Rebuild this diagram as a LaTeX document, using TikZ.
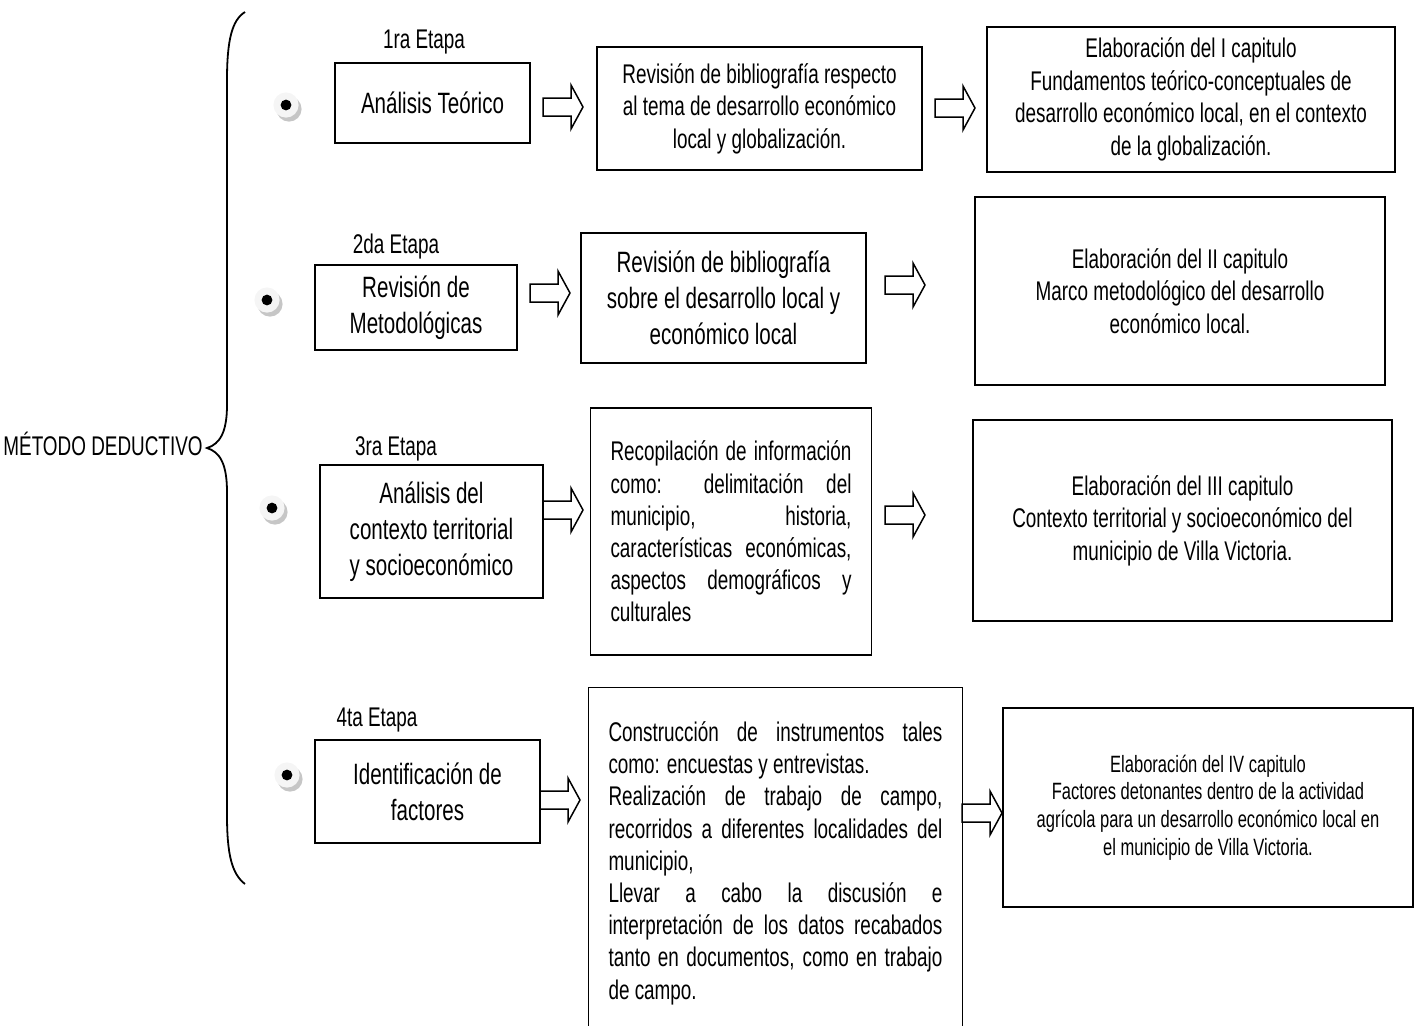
\documentclass[tikz,border=0pt]{standalone}
\usepackage{fontspec}
\setmainfont{Liberation Sans}[FakeStretch=0.7]
\usetikzlibrary{calc}
\hyphenpenalty=10000
\exhyphenpenalty=10000

\begin{document}
\begin{tikzpicture}[x=0.5pt,y=-0.5pt,
    box/.style={draw,line width=0.65pt,inner sep=0pt,align=center,font=\fontsize{13.5}{16.3}\selectfont},
    bigbox/.style={box,font=\fontsize{14.7}{18}\selectfont},
    smallbox/.style={box,font=\fontsize{11.8}{13.8}\selectfont},
    parbox/.style={draw,line width=0.65pt,inner xsep=10pt,align=justify,font=\fontsize{13.5}{16.1}\selectfont},
    etapa/.style={inner sep=0pt,font=\fontsize{13.5}{16}\selectfont},
    fatarrow/.pic={\draw[line width=0.75pt] (0,-9) -- (28,-9) -- (28,-22) -- (40,0) -- (28,22) -- (28,9) -- (0,9) -- cycle;},
    bullet/.pic={\fill[gray!45] (3,4) circle (6.3pt); \fill[gray!8] (0,0) circle (6.3pt); \fill (0,0) circle (2.7pt);}]

    \useasboundingbox (0,0) rectangle (1420,1025);
    \clip (0,0) rectangle (1420,1025);

    \draw[line width=0.9pt] (245,12) .. controls (232,20) and (227,40) .. (227,80) -- (227,405)
        .. controls (227,432) and (220,444) .. (207,448) coordinate (tip)
        .. controls (220,452) and (227,464) .. (227,492) -- (227,815)
        .. controls (227,855) and (232,874) .. (245,884);
    \node[anchor=east,inner sep=1pt,font=\fontsize{13.5}{16}\selectfont] (metodo) at ($(tip)+(-2,-4)$) {MÉTODO DEDUCTIVO};

    \pic at (286,105) {bullet};
    \pic at (267,300) {bullet};
    \pic at (272,508) {bullet};
    \pic at (287,775) {bullet};

    \node[etapa] (tA) at (424,42) {1ra Etapa};
    \node[etapa] (tB) at (396,247) {2da Etapa};
    \node[etapa] (tC) at (396,449) {3ra Etapa};
    \node[etapa] (tD) at (377,720) {4ta Etapa};

    \node[bigbox,minimum width=97.5pt,minimum height=40pt] (eA) at (432.5,103) {Análisis Teórico};
    \node[bigbox,minimum width=101pt,minimum height=42.5pt] (eB) at (416,307.5) {Revisión de\\Metodológicas};
    \node[bigbox,minimum width=111.5pt,minimum height=66.5pt] (eC) at (431.5,531.5) {Análisis del\\contexto territorial\\y socioeconómico};
    \node[bigbox,minimum width=112.5pt,minimum height=51.5pt] (eD) at (427.5,791.5) {Identificación de\\factores};

    \node[box,minimum width=162.5pt,minimum height=61.5pt] (rA) at (759.5,108.5) {Revisión de bibliografía respecto\\al tema de desarrollo económico\\local y globalización.};
    \node[bigbox,minimum width=142.5pt,minimum height=65pt] (rB) at (723.5,298) {Revisión de bibliografía\\sobre el desarrollo local y\\económico local};
    \node[parbox,text width=120.5pt,minimum height=123.5pt] (rC) at (731,531.5) {Recopilación de información\linebreak como: delimitación del\linebreak municipio, historia,\linebreak características económicas,\linebreak aspectos demográficos y\linebreak culturales};
    \node[parbox,text width=167pt,inner ysep=17pt,anchor=north] (rD) at (775.5,687) {Construcción de instrumentos tales\linebreak como: encuestas y entrevistas.\\ Realización de trabajo de campo,\linebreak recorridos a diferentes localidades del\linebreak municipio,\\ Llevar a cabo la discusión e\linebreak interpretación de los datos recabados\linebreak tanto en documentos, como en trabajo\linebreak de campo.};

    \node[box,minimum width=204pt,minimum height=72.5pt] (kA) at (1191,99.5) {Elaboración del I capitulo\\Fundamentos teórico-conceptuales de\\desarrollo económico local, en el contexto\\de la globalización.};
    \node[box,minimum width=205pt,minimum height=94pt] (kB) at (1180,291) {Elaboración del II capitulo\\Marco metodológico del desarrollo\\económico local.};
    \node[box,line width=1.1pt,minimum width=209.5pt,minimum height=100.5pt] (kC) at (1182.5,520.5) {Elaboración del III capitulo\\Contexto territorial y socioeconómico del\\municipio de Villa Victoria.};
    \node[smallbox,minimum width=205pt,minimum height=99.5pt] (kD) at (1208,807.5) {Elaboración del IV capitulo\\Factores detonantes dentro de la actividad\\agrícola para un desarrollo económico local en\\el municipio de Villa Victoria.};

    \pic at (543,107) {fatarrow};
    \pic at (530,293) {fatarrow};
    \pic at (543,510) {fatarrow};
    \pic at (540,800) {fatarrow};

    \pic at (935,108) {fatarrow};
    \pic at (885,285) {fatarrow};
    \pic at (885,515) {fatarrow};
    \pic at (962,813) {fatarrow};
\end{tikzpicture}
\end{document}
